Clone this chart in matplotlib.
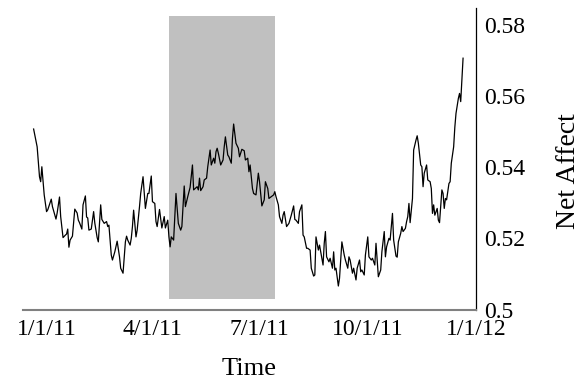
import matplotlib.pyplot as plt
import pandas as pd

plt.rcParams['font.family'] = ['Liberation Serif', 'DejaVu Serif']

# daily net affect, days counted from the first point
start = pd.Timestamp('2010-12-21')
day = [0, 3, 5, 6, 7, 9, 11, 12, 15, 16, 19, 20, 22, 23, 25, 27, 28, 29, 30, 31,
       33, 35, 37, 38, 39, 41, 42, 44, 45, 46, 47, 49, 51, 52, 54, 55, 57, 58, 60, 62,
       63, 64, 66, 67, 69, 71, 73, 74, 76, 78, 79, 80, 82, 83, 84, 85, 87, 88, 90, 91,
       93, 95, 97, 98, 100, 101, 103, 104, 105, 107, 109, 111, 112, 114, 115, 116, 117, 119, 121, 123,
       125, 126, 128, 129, 131, 133, 135, 136, 139, 140, 141, 142, 144, 145, 147, 148, 150, 151, 153, 154,
       155, 156, 157, 159, 161, 162, 163, 165, 166, 168, 169, 170, 172, 174, 175, 177, 179, 180, 182, 183,
       184, 186, 187, 189, 191, 192, 194, 196, 197, 199, 200, 202, 204, 205, 206, 208, 209, 211, 212, 213,
       215, 217, 219, 221, 222, 223, 225, 226, 228, 229, 230, 232, 233, 235, 236, 238, 239, 240, 242, 243,
       245, 246, 247, 248, 249, 251, 252, 254, 255, 256, 257, 259, 260, 262, 264, 265, 267, 268, 269, 271,
       272, 274, 275, 277, 278, 279, 281, 282, 284, 285, 287, 288, 290, 291, 293, 295, 296, 298, 299, 300,
       302, 303, 305, 306, 308, 309, 310, 312, 313, 314, 316, 317, 318, 319, 320, 322, 323, 325, 326, 327,
       329, 330, 331, 332, 334, 335, 337, 338, 339, 340, 341, 343, 344, 345, 347, 348, 349, 350, 351, 353,
       354, 355, 357, 358, 359, 361, 362, 363, 364, 365]
net_affect = [0.5507, 0.5457, 0.5373, 0.5359, 0.5401, 0.5322, 0.5275, 0.5280, 0.5310, 0.5289,
              0.5254, 0.5271, 0.5316, 0.5261, 0.5202, 0.5209, 0.5212, 0.5226, 0.5175, 0.5195,
              0.5206, 0.5282, 0.5271, 0.5251, 0.5244, 0.5226, 0.5294, 0.5319, 0.5260, 0.5257,
              0.5223, 0.5226, 0.5275, 0.5243, 0.5202, 0.5190, 0.5294, 0.5253, 0.5242, 0.5247,
              0.5233, 0.5237, 0.5153, 0.5139, 0.5162, 0.5192, 0.5148, 0.5116, 0.5102, 0.5190,
              0.5206, 0.5195, 0.5181, 0.5200, 0.5233, 0.5279, 0.5204, 0.5223, 0.5289, 0.5326,
              0.5373, 0.5284, 0.5326, 0.5326, 0.5375, 0.5303, 0.5298, 0.5247, 0.5233, 0.5281,
              0.5229, 0.5261, 0.5229, 0.5251, 0.5204, 0.5176, 0.5204, 0.5195, 0.5326, 0.5242,
              0.5223, 0.5233, 0.5347, 0.5289, 0.5317, 0.5343, 0.5406, 0.5336, 0.5345, 0.5336,
              0.5369, 0.5334, 0.5345, 0.5364, 0.5369, 0.5401, 0.5448, 0.5406, 0.5425, 0.5411,
              0.5443, 0.5453, 0.5439, 0.5406, 0.5420, 0.5457, 0.5485, 0.5434, 0.5429, 0.5411,
              0.5481, 0.5521, 0.5467, 0.5453, 0.5429, 0.5450, 0.5446, 0.5420, 0.5425, 0.5387,
              0.5406, 0.5340, 0.5326, 0.5322, 0.5383, 0.5359, 0.5291, 0.5308, 0.5359, 0.5340,
              0.5312, 0.5317, 0.5322, 0.5331, 0.5317, 0.5294, 0.5261, 0.5242, 0.5265, 0.5275,
              0.5233, 0.5242, 0.5265, 0.5291, 0.5253, 0.5251, 0.5242, 0.5275, 0.5294, 0.5209,
              0.5204, 0.5172, 0.5172, 0.5167, 0.5116, 0.5094, 0.5097, 0.5204, 0.5167, 0.5181,
              0.5144, 0.5125, 0.5186, 0.5219, 0.5148, 0.5134, 0.5144, 0.5116, 0.5162, 0.5111,
              0.5116, 0.5066, 0.5088, 0.5190, 0.5153, 0.5139, 0.5116, 0.5148, 0.5139, 0.5102,
              0.5116, 0.5083, 0.5116, 0.5139, 0.5106, 0.5111, 0.5097, 0.5153, 0.5204, 0.5148,
              0.5139, 0.5144, 0.5125, 0.5186, 0.5092, 0.5111, 0.5162, 0.5219, 0.5148, 0.5176,
              0.5200, 0.5195, 0.5270, 0.5195, 0.5150, 0.5147, 0.5190, 0.5214, 0.5233, 0.5219,
              0.5228, 0.5247, 0.5261, 0.5298, 0.5244, 0.5312, 0.5448, 0.5476, 0.5488, 0.5467,
              0.5406, 0.5401, 0.5345, 0.5383, 0.5406, 0.5364, 0.5359, 0.5340, 0.5270, 0.5294,
              0.5265, 0.5284, 0.5251, 0.5244, 0.5336, 0.5326, 0.5284, 0.5312, 0.5308, 0.5354,
              0.5359, 0.5411, 0.5457, 0.5512, 0.5551, 0.5593, 0.5607, 0.5584, 0.5645, 0.5706]

shade_start = '2011-04-15'
shade_end = '2011-07-14'
shade_low = 0.503
shade_high = 0.5824

tick_dates = ['2011-01-01', '2011-04-01', '2011-07-01', '2011-10-01', '2012-01-01']
tick_labels = ['1/1/11', '4/1/11', '7/1/11', '10/1/11', '1/1/12']
y_ticks = [0.5, 0.52, 0.54, 0.56, 0.58]
y_labels = ['0.5', '0.52', '0.54', '0.56', '0.58']

dates = start + pd.to_timedelta(day, unit='D')

fig = plt.figure(figsize=(5.8, 3.88), dpi=100)
ax = fig.add_axes([0.0397, 0.2023, 0.7810, 0.7771])

ax.fill_between(pd.to_datetime([shade_start, shade_end]), shade_low, shade_high,
                color='#c0c0c0', linewidth=0, zorder=1)
ax.plot(dates, net_affect, color='black', linewidth=0.9, zorder=2)

ax.set_xlim(pd.Timestamp('2010-12-12'), pd.Timestamp('2012-01-01'))
ax.set_ylim(0.5, 0.5847)
ax.set_xticks(pd.to_datetime(tick_dates))
ax.set_xticklabels(tick_labels)
ax.set_yticks(y_ticks)
ax.set_yticklabels(y_labels)

ax.yaxis.tick_right()
ax.yaxis.set_label_position('right')
ax.tick_params(axis='both', length=0, labelsize=17)
ax.tick_params(axis='x', pad=7)
ax.tick_params(axis='y', pad=6)

for s in ['top', 'left']:
    ax.spines[s].set_visible(False)
ax.spines['bottom'].set_color('#808080')
ax.spines['bottom'].set_linewidth(1.5)
ax.spines['right'].set_color('black')
ax.spines['right'].set_linewidth(0.9)

ax.set_xlabel('Time', fontsize=19, labelpad=13)
ax.set_ylabel('Net Affect', fontsize=20)
ax.yaxis.set_label_coords(1.177, 0.459)

plt.savefig('out.png', dpi=100)
